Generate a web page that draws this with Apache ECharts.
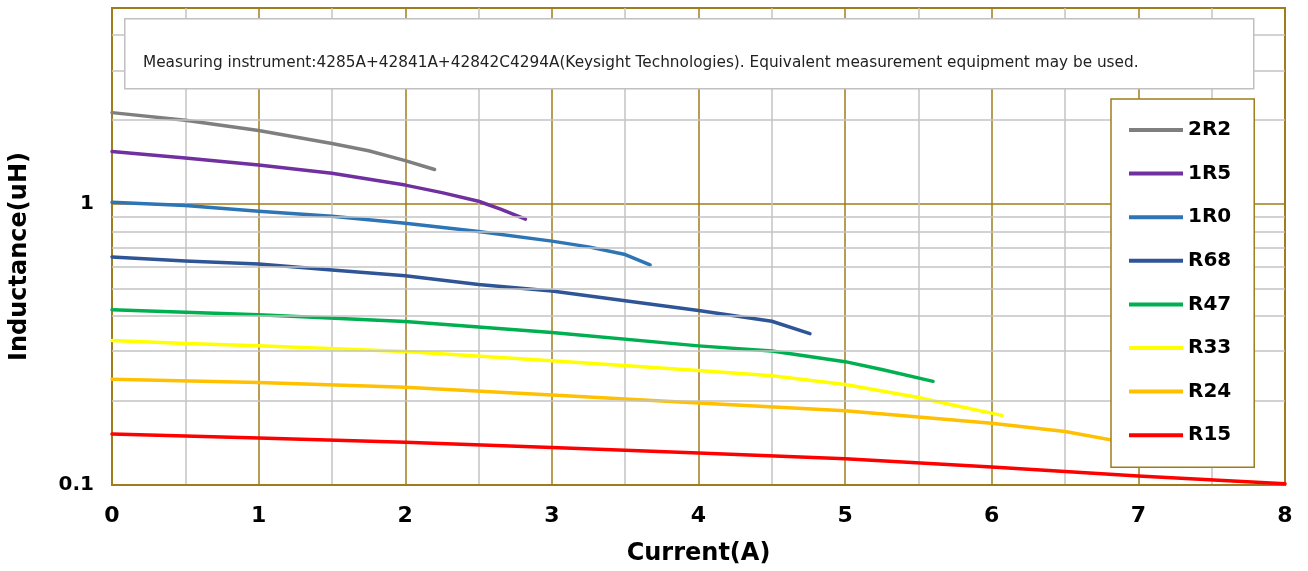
<!DOCTYPE html>
<html>
<head>
<meta charset="utf-8">
<script src="https://cdn.jsdelivr.net/npm/echarts@6/dist/echarts.min.js"></script>
<style>
  html, body { margin: 0; padding: 0; background: #fff; }
  #chart { width: 1308px; height: 571px; }
</style>
</head>
<body>
<div id="chart"></div>
<script>
// current (A) / inductance (uH)
var cur2R2 = [0, 0.5, 1, 1.5, 1.75, 2, 2.2];
var ind2R2 = [2.12, 1.99, 1.83, 1.645, 1.55, 1.43, 1.33];
var cur1R5 = [0, 0.5, 1, 1.5, 2, 2.25, 2.5, 2.65, 2.82];
var ind1R5 = [1.54, 1.46, 1.38, 1.29, 1.17, 1.10, 1.025, 0.96, 0.885];
var cur1R0 = [0, 0.5, 1, 1.5, 2, 2.5, 3, 3.25, 3.5, 3.67];
var ind1R0 = [1.016, 0.99, 0.944, 0.906, 0.856, 0.80, 0.739, 0.705, 0.662, 0.608];
var curR68 = [0, 0.5, 1, 1.5, 2, 2.5, 3, 3.5, 4, 4.5, 4.76];
var indR68 = [0.649, 0.628, 0.613, 0.583, 0.556, 0.518, 0.491, 0.453, 0.418, 0.383, 0.346];
var curR47 = [0, 1, 2, 3, 4, 4.5, 5, 5.25, 5.6];
var indR47 = [0.421, 0.404, 0.382, 0.349, 0.313, 0.300, 0.275, 0.258, 0.234];
var curR33 = [0, 0.5, 1, 2, 3, 4, 4.5, 5, 5.5, 5.75, 6.07];
var indR33 = [0.327, 0.319, 0.313, 0.299, 0.277, 0.256, 0.245, 0.228, 0.205, 0.192, 0.177];
var curR24 = [0, 1, 2, 3, 4, 5, 6, 6.5, 7];
var indR24 = [0.238, 0.232, 0.223, 0.209, 0.196, 0.184, 0.166, 0.155, 0.139];
var curR15 = [0, 1, 2, 3, 4, 5, 6, 7, 8];
var indR15 = [0.152, 0.147, 0.142, 0.136, 0.130, 0.124, 0.116, 0.1076, 0.101];

var names = ['2R2', '1R5', '1R0', 'R68', 'R47', 'R33', 'R24', 'R15'];
var colors = ['#7f7f7f', '#7030a0', '#2e75b6', '#2f5597', '#00b050', '#ffff00', '#ffc000', '#ff0000'];
var currents = [cur2R2, cur1R5, cur1R0, curR68, curR47, curR33, curR24, curR15];
var inductances = [ind2R2, ind1R5, ind1R0, indR68, indR47, indR33, indR24, indR15];

// log grid lines between the decades
var minorY = [0.2, 0.3, 0.4, 0.5, 0.6, 0.7, 0.8, 0.9, 2, 3, 4];
var note = 'Measuring instrument:4285A+42841A+42842C4294A(Keysight Technologies). Equivalent measurement equipment may be used.';

var gold = '#a07c1c';
var gray = '#c3c3c3';

var chart = echarts.init(document.getElementById('chart'));

var series = [{
    name : 'grid',
    type : 'line',
    data : [],
    z : 1,
    silent : true,
    markLine : {
        silent : true,
        symbol : 'none',
        label : { show : false },
        lineStyle : { color : gray, type : 'solid', width : 1.5 },
        data : minorY.map(function(v) { return { yAxis : v }; })
    }
}];
for (var i = 0; i < names.length; i++) {
    var pts = [];
    for (var j = 0; j < currents[i].length; j++) {
        pts.push([currents[i][j], inductances[i][j]]);
    }
    series.push({
        name : names[i],
        type : 'line',
        data : pts,
        smooth : false,
        showSymbol : false,
        z : 3,
        color : colors[i],
        lineStyle : { color : colors[i], width : 3.5, cap : 'round', join : 'round' }
    });
}

var option = {
    animation : false,
    backgroundColor : '#fff',
    grid : {
        left : 111,
        right : 23,
        top : 8,
        bottom : 83,
        show : true,
        backgroundColor : '#fff',
        borderColor : gold,
        borderWidth : 2
    },
    legend : {
        data : names,
        orient : 'vertical',
        left : 1111,
        top : 99,
        padding : [19, 23, 20, 18],
        itemWidth : 54,
        itemHeight : 4,
        itemGap : 19.6,
        icon : 'rect',
        backgroundColor : '#fff',
        borderColor : gold,
        borderWidth : 1.5,
        borderRadius : 0,
        z : 10,
        textStyle : {
            fontFamily : 'DejaVu Sans',
            fontWeight : 'bold',
            fontSize : 20,
            lineHeight : 24,
            color : '#000'
        }
    },
    xAxis : {
        type : 'value',
        min : 0,
        max : 8,
        interval : 1,
        z : 1.5,
        name : 'Current(A)',
        nameLocation : 'middle',
        nameGap : 57,
        nameTextStyle : { fontFamily : 'DejaVu Sans', fontWeight : 'bold', fontSize : 24, color : '#000' },
        axisLine : { lineStyle : { color : gold, width : 2 } },
        axisTick : { show : false },
        axisLabel : { margin : 20, fontFamily : 'DejaVu Sans', fontWeight : 'bold', fontSize : 22, color : '#000' },
        splitLine : { show : true, lineStyle : { color : gold, width : 1.5 } },
        minorTick : { show : false, splitNumber : 2 },
        minorSplitLine : { show : true, lineStyle : { color : gray, width : 1.5 } }
    },
    yAxis : {
        type : 'log',
        logBase : 10,
        min : 0.1,
        max : 5,
        z : 1.5,
        name : 'Inductance(uH)',
        nameLocation : 'middle',
        nameGap : 80,
        nameTextStyle : {
            fontFamily : 'DejaVu Sans',
            fontWeight : 'bold',
            fontSize : 24,
            color : '#000',
            padding : [0, 20, 0, 0]
        },
        axisLine : { show : true, lineStyle : { color : gold, width : 2 } },
        axisTick : { show : false },
        axisLabel : {
            margin : 18,
            fontFamily : 'DejaVu Sans',
            fontWeight : 'bold',
            fontSize : 20,
            color : '#000',
            formatter : function(v) {
                if (Math.abs(v - 0.1) < 1e-6) return '0.1';
                if (Math.abs(v - 1) < 1e-6) return '1';
                return '';
            }
        },
        splitLine : { show : true, lineStyle : { color : gold, width : 1.5 } }
    },
    graphic : [{
        type : 'rect',
        left : 124,
        top : 18,
        z : 20,
        shape : { width : 1129, height : 70 },
        style : { fill : '#fff', stroke : '#c0c0c0', lineWidth : 1.5 }
    }, {
        type : 'text',
        left : 143,
        top : 56,
        z : 21,
        style : {
            text : note,
            fontFamily : 'DejaVu Sans',
            fontSize : 15.3,
            fill : '#222'
        }
    }],
    series : series
};
chart.setOption(option);
</script>
</body>
</html>
